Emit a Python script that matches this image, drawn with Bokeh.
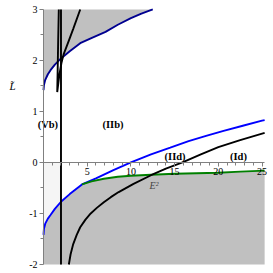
from bokeh.plotting import figure
from bokeh.models import FixedTicker
from bokeh.core.properties import value
from bokeh.embed import file_html
from bokeh.resources import INLINE

# ---- data ----
x_min, x_max = 0, 25.3          # extent of the drawn axes / curves
y_min, y_max = -2, 3
view_x = (-4.92, 25.97)         # visible window (includes room for the labels)
view_y = (-2.118, 3.176)

upper_blue_x = [0, 0.05, 0.2, 0.5, 0.8, 1.3, 2.0, 3.0, 4.2, 5.6, 7.1, 8.5, 10.0, 11.2, 12.5]
upper_blue_y = [1.42, 1.52, 1.62, 1.73, 1.81, 1.92, 2.04, 2.18, 2.34, 2.45, 2.56, 2.70, 2.83, 2.92, 3.0]

lower_blue_x = [0, 0.05, 0.2, 0.5, 0.8, 1.3, 2.0, 3.0, 4.4, 6.0, 8.0, 10.0, 12.3, 14.5, 16.6, 18.6, 20.6, 22.8, 25.0, 25.3]
lower_blue_y = [-1.42, -1.30, -1.20, -1.10, -1.03, -0.91, -0.77, -0.62, -0.43, -0.31, -0.15, 0.0, 0.16, 0.29, 0.42, 0.52, 0.62, 0.72, 0.82, 0.83]

green_x = [4.4, 5.5, 6.9, 8.5, 10.0, 12.3, 15.0, 17.5, 20.0, 22.5, 25.3]
green_y = [-0.43, -0.37, -0.32, -0.28, -0.26, -0.24, -0.22, -0.21, -0.20, -0.18, -0.16]

lower_black_x = [2.9, 3.1, 3.4, 3.8, 4.2, 4.8, 5.4, 6.1, 6.9, 7.7, 8.6, 10.3, 12.3, 14.0, 15.9, 18.0, 20.0, 22.5, 25.3]
lower_black_y = [-2.0, -1.8, -1.6, -1.42, -1.27, -1.12, -1.0, -0.89, -0.78, -0.68, -0.58, -0.42, -0.25, -0.12, 0.0, 0.16, 0.30, 0.44, 0.58]

cusp_x = [1.75, 1.68, 1.62, 1.57, 1.8, 2.05, 2.3, 2.9, 3.4, 4.2]
cusp_y = [3.0, 2.4, 1.8, 1.38, 1.7, 1.95, 2.12, 2.39, 2.62, 3.0]

vertical_x = [2.0, 2.0]
vertical_y = [y_min, y_max]

region_names = ["(Vb)", "(IIb)", "(IId)", "(Id)"]
region_x = [0.5, 7.95, 15.05, 22.3]
region_y = [0.74, 0.74, 0.12, 0.12]

x_ticks = [5, 10, 15, 20, 25]
x_minor = list(range(1, 26))
y_ticks = [-2, -1, 0, 1, 2, 3]
y_minor = [-1.5, -0.5, 0.5, 1.5, 2.5]

x_label = "E²"
y_label = ["L̃"]
y_label_x = [-3.55]
y_label_y = [1.49]

GRAY = "#c0c0c0"
AXIS_GRAY = "#808080"
SERIF = "Liberation Serif"

p = figure(width=270, height=270, x_range=view_x, y_range=view_y,
           output_backend="svg", toolbar_location=None,
           min_border_left=0, min_border_right=0, min_border_top=0, min_border_bottom=0)
p.outline_line_color = None
p.grid.visible = False
p.background_fill_color = "white"
p.border_fill_color = "white"

# fills
p.varea(x=upper_blue_x, y1=upper_blue_y, y2=y_max, color=GRAY)
bnd_x = [x for x in lower_blue_x if x < green_x[0]] + green_x
bnd_y = [y for x, y in zip(lower_blue_x, lower_blue_y) if x < green_x[0]] + green_y
p.varea(x=bnd_x, y1=y_min, y2=bnd_y, color=GRAY)
lx = [x for x in lower_blue_x if x <= vertical_x[0]]
ly = [y for x, y in zip(lower_blue_x, lower_blue_y) if x <= vertical_x[0]]
p.varea(x=lx, y1=ly, y2=0, color="#f5f5f5")

# curves
p.line(upper_blue_x, upper_blue_y, color="#000090", line_width=1.9)
p.line(lower_blue_x, lower_blue_y, color="#0000ff", line_width=1.9)
p.line(green_x, green_y, color="#008000", line_width=1.9)
p.line(lower_black_x, lower_black_y, color="black", line_width=1.9)
p.line(cusp_x, cusp_y, color="black", line_width=1.9)
p.line(vertical_x, vertical_y, color="black", line_width=1.9)

p.text(x=region_x, y=region_y, text=region_names, text_font=value(SERIF),
       text_font_style="bold", text_font_size="10.5px", text_align="center",
       text_baseline="middle", color="black")

p.text(x=y_label_x, y=y_label_y, text=y_label, text_font=value(SERIF),
       text_font_style="italic", text_font_size="11px", text_align="center",
       text_baseline="middle", color="black")

# axes crossing at the origin
ax = p.xaxis[0]
ax.fixed_location = 0
ax.bounds = (x_min, x_max)
ax.ticker = FixedTicker(ticks=x_ticks, minor_ticks=x_minor)
ax.axis_line_color = AXIS_GRAY
ax.major_tick_line_color = AXIS_GRAY
ax.minor_tick_line_color = AXIS_GRAY
ax.major_tick_out = 4
ax.major_tick_in = 0
ax.minor_tick_out = 3
ax.minor_tick_in = 0
ax.major_label_standoff = 2
ax.major_label_text_font = SERIF
ax.major_label_text_font_size = "10px"
ax.major_label_text_color = "black"
ax.axis_label = x_label
ax.axis_label_text_font = SERIF
ax.axis_label_text_font_style = "italic"
ax.axis_label_text_font_size = "10px"
ax.axis_label_standoff = 1

ay = p.yaxis[0]
ay.fixed_location = 0
ay.bounds = (y_min, y_max)
ay.ticker = FixedTicker(ticks=y_ticks, minor_ticks=y_minor)
ay.major_label_overrides = {t: str(t) for t in y_ticks}
ay.axis_line_color = AXIS_GRAY
ay.major_tick_line_color = AXIS_GRAY
ay.minor_tick_line_color = AXIS_GRAY
ay.major_tick_out = 4
ay.major_tick_in = 0
ay.minor_tick_out = 3
ay.minor_tick_in = 0
ay.major_label_standoff = 2
ay.major_label_text_font = SERIF
ay.major_label_text_font_size = "10px"
ay.major_label_text_color = "black"

open("out.html", "w").write(file_html(p, INLINE))
